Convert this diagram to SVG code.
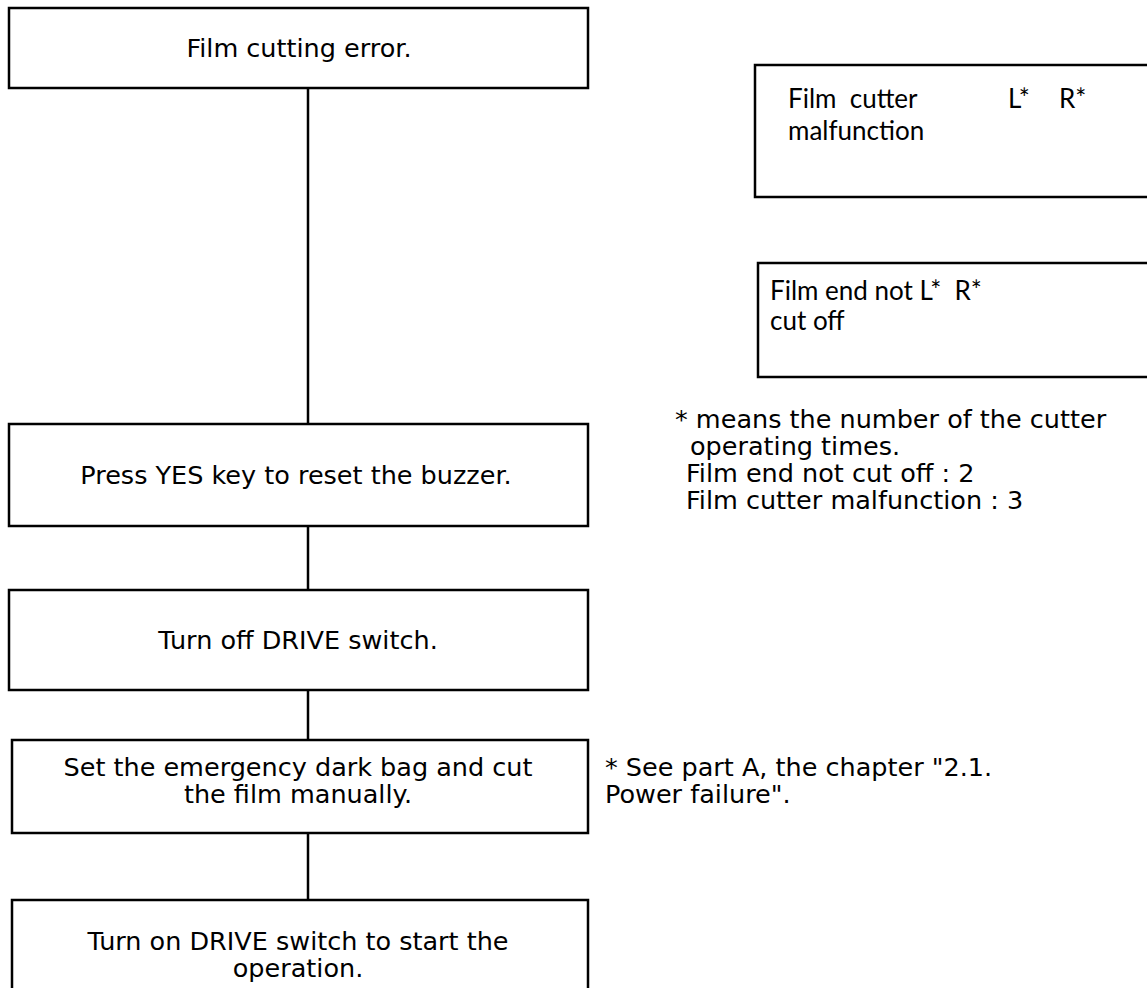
<svg xmlns="http://www.w3.org/2000/svg" width="1147" height="988" viewBox="0 0 1147 988">
  <style>
    .box { fill: #ffffff; stroke: #000000; stroke-width: 2.5; }
    .link { stroke: #000000; stroke-width: 2.5; fill: none; }
    .step { font-family: "DejaVu Sans", "Liberation Sans", sans-serif; font-size: 25.5px; fill: #000000; text-anchor: middle; }
    .note { font-family: "DejaVu Sans", "Liberation Sans", sans-serif; font-size: 25.5px; fill: #000000; }
    .msg { font-family: "Lato", "Open Sans", sans-serif; font-size: 26px; fill: #000000; }
  </style>
  <rect width="1147" height="988" fill="#ffffff"/>

  <!-- connectors between the flow steps -->
  <g id="connectors">
    <line class="link" x1="308" y1="88" x2="308" y2="424"/>
    <line class="link" x1="308" y1="526" x2="308" y2="590"/>
    <line class="link" x1="308" y1="690" x2="308" y2="740"/>
    <line class="link" x1="308" y1="833" x2="308" y2="900"/>
  </g>

  <g id="step-error">
    <rect class="box" x="9" y="8" width="579" height="80"/>
    <text class="step" x="299" y="57">Film cutting error.</text>
  </g>

  <g id="step-reset">
    <rect class="box" x="9" y="424" width="579" height="102"/>
    <text class="step" x="296" y="484">Press YES key to reset the buzzer.</text>
  </g>

  <g id="step-drive-off">
    <rect class="box" x="9" y="590" width="579" height="100"/>
    <text class="step" x="298" y="649">Turn off DRIVE switch.</text>
  </g>

  <g id="step-cut-manually">
    <rect class="box" x="12" y="740" width="576" height="93"/>
    <text class="step" x="298" y="776">Set the emergency dark bag and cut</text>
    <text class="step" x="298" y="803">the film manually.</text>
  </g>

  <g id="step-drive-on">
    <rect class="box" x="12" y="900" width="576" height="100"/>
    <text class="step" x="298" y="950">Turn on DRIVE switch to start the</text>
    <text class="step" x="298" y="977">operation.</text>
  </g>

  <!-- display messages -->
  <g id="msg-malfunction">
    <rect class="box" x="755" y="65" width="400" height="132"/>
    <text class="msg" x="788" y="108" xml:space="preserve">Film  cutter</text>
    <text class="msg" x="1008" y="108">L*</text>
    <text class="msg" x="1059" y="108">R*</text>
    <text class="msg" x="788" y="140">malfunction</text>
  </g>

  <g id="msg-not-cut">
    <rect class="box" x="758" y="263" width="400" height="114"/>
    <text class="msg" x="770" y="300" xml:space="preserve">Film end not L*  R*</text>
    <text class="msg" x="770" y="330">cut off</text>
  </g>

  <!-- footnotes -->
  <g id="note-count">
    <text class="note" x="675" y="428">* means the number of the cutter</text>
    <text class="note" x="690" y="455">operating times.</text>
    <text class="note" x="686" y="482">Film end not cut off : 2</text>
    <text class="note" x="686" y="509">Film cutter malfunction : 3</text>
  </g>

  <g id="note-power">
    <text class="note" x="605" y="776">* See part A, the chapter "2.1.</text>
    <text class="note" x="605" y="803">Power failure".</text>
  </g>
</svg>
